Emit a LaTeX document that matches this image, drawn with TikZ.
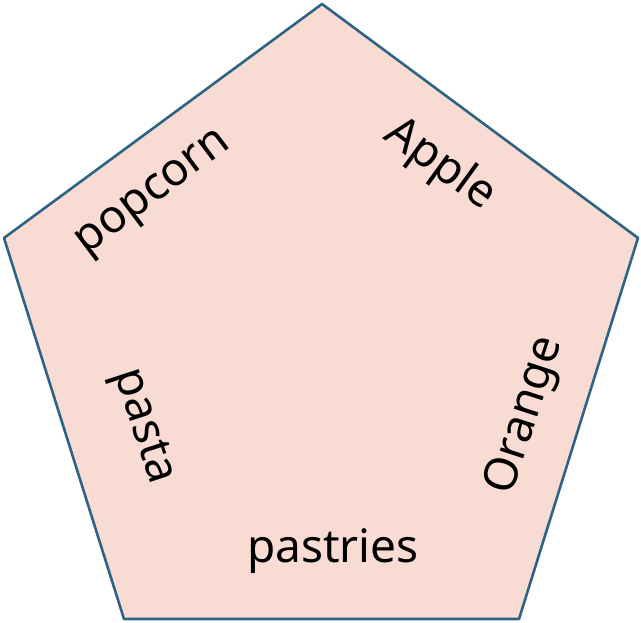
\documentclass[tikz,border=0pt]{standalone}
\usepackage{fontspec}
\setmainfont{Noto Sans}
\usepackage{xcolor}
\usepackage{tikz}
\usetikzlibrary{calc}

\definecolor{pentfill}{HTML}{F8DCD4}
\definecolor{pentline}{HTML}{2E6384}

\tikzset{
  food/.style={font=\fontsize{46}{54}\selectfont,inner sep=0pt}
}

\begin{document}
\begin{tikzpicture}[x=1pt,y=1pt,line join=round]
  \useasboundingbox (0,0) rectangle (641,623);
  \coordinate (T) at (322.0,619.0);
  \coordinate (L) at (4.0,385.0);
  \coordinate (R) at (638.0,385.0);
  \coordinate (BL) at (124.0,4.0);
  \coordinate (BR) at (519.0,4.0);
  \draw[pentline,fill=pentfill,line width=2.6pt] (T) -- (R) -- (BR) -- (BL) -- (L) -- cycle;
  \node[food,rotate=37] (popcorn) at (155,428) {popcorn};
  \node[food,rotate=-36] (apple) at (440,458) {Apple};
  \node[food,rotate=72] (orange) at (526,207) {Orange};
  \node[food,rotate=-72] (pasta) at (142,196) {pasta};
  \node[food] (pastries) at (333,72) {pastries};
\end{tikzpicture}
\end{document}
